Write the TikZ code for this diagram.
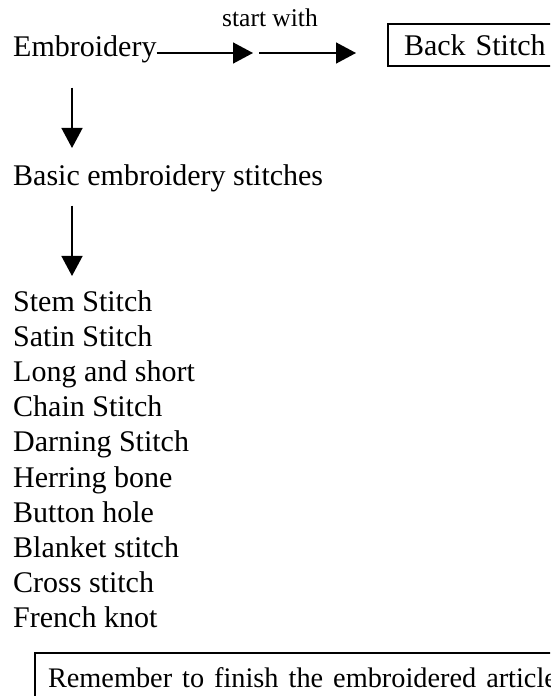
\documentclass[tikz,border=0pt]{standalone}
\usepackage{fontspec}
\setmainfont{Liberation Serif}
\usetikzlibrary{arrows.meta, positioning}

\begin{document}
\begin{tikzpicture}[
    x=1pt, y=-1pt,
    every node/.style={font=\fontsize{30}{35}\selectfont, inner sep=0pt},
    txt/.style={anchor=base west},
    framed/.style={draw, line width=2pt, anchor=north west, align=left},
    arrow/.style={-{Triangle[length=20pt, width=21pt]}, line width=1.5pt}
  ]

  % Page frame, cut as in the scan
  \useasboundingbox (0,0) rectangle (550,696);
  \clip (0,0) rectangle (550,696);

  % Top row
  \node[txt] (emb) at (13,56) {Embroidery};
  \node[txt, font=\fontsize{25.5}{30}\selectfont] (startw) at (222,27) {start with};
  \node[framed, inner xsep=16pt, text width=150pt, minimum height=42pt] (back) at (387,23) {Back Stitch};
  \coordinate (tipA) at (253,53);
  \coordinate (tailB) at (259,53);
  \coordinate (tipB) at (356,53);

  % Second level
  \node[txt] (basic) at (13,185) {Basic embroidery stitches};

  % List of stitches
  \foreach \name [count=\i from 0] in {Stem Stitch, Satin Stitch, Long and short,
      Chain Stitch, Darning Stitch, Herring bone, Button hole, Blanket stitch,
      Cross stitch, French knot}
    \node[txt] (st\i) at (13,{311+35.2*\i}) {\name};

  % Closing note
  \node[framed, inner xsep=13pt, inner ysep=15pt,
        font=\fontsize{28.3}{32}\selectfont] (note) at (34,652)
    {\spaceskip=10pt\relax Remember to finish the embroidered article};

  % Connections
  \draw[arrow] ([yshift=3pt]emb.base east) -- (tipA);
  \draw[arrow] (tailB) -- (tipB);
  \draw[arrow] ([xshift=59pt, yshift=-25pt]emb.south west) -- ([xshift=59pt, yshift=16pt]basic.north west);
  \draw[arrow] ([xshift=59pt, yshift=-14pt]basic.south west) -- ([xshift=59pt, yshift=14pt]st0.north west);

\end{tikzpicture}
\end{document}
